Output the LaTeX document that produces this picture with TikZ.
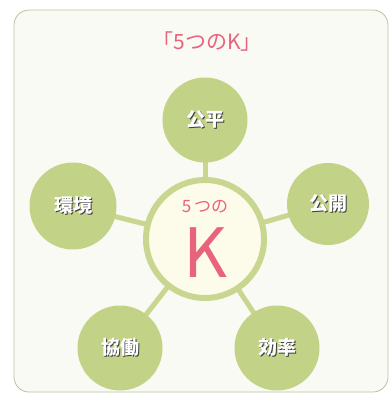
\documentclass[tikz,border=0pt]{standalone}
\usepackage{fontspec}
\newfontfamily\jpfont{Noto Sans CJK JP}
\usepackage{tikz}
\usetikzlibrary{positioning,backgrounds}
\definecolor{kpink}{HTML}{E8637C}
\definecolor{leafgreen}{HTML}{C2D287}
\definecolor{ringgreen}{HTML}{C9D68F}
\definecolor{paleback}{HTML}{F9FAF3}
\definecolor{framegray}{HTML}{B8C29C}
\definecolor{creamfill}{HTML}{FDFCEB}
\newcommand{\shadowtext}[1]{{\color{black!75}\rlap{\kern1pt\raisebox{-1pt}{#1}}}{\color{white}#1}}
\tikzset{
  leaf/.style={circle,minimum size=#1,inner sep=0pt,fill=leafgreen,
    font=\jpfont\bfseries\fontsize{19}{19}\selectfont},
  leaf/.default={85pt},
  hub/.style={circle,minimum size=118pt,inner sep=0pt,draw=ringgreen,
    line width=6pt,fill=creamfill,text=kpink,align=center},
  spoke/.style={draw=ringgreen,line width=5pt},
}
\begin{document}
\begin{tikzpicture}[x=1pt,y=-1pt]
  \useasboundingbox (0,0) rectangle (391,394);
  \node[font=\jpfont\fontsize{21}{21}\selectfont,text=kpink] (title) at (207,42) {「5つのK」};
  % center
  \node[hub] (hub) at (205,239) {%
    {\jpfont\fontsize{17}{17}\selectfont 5\,つの}\\[14pt]
    {\jpfont\fontsize{68}{68}\selectfont K}};
  % the five K
  \node[leaf] (kohei) at (205,120) {\shadowtext{公平}};
  \node[leaf=82pt] (kokai) at (328,204) {\shadowtext{公開}};
  \node[leaf=87pt] (kankyo) at (73,206) {\shadowtext{環境}};
  \node[leaf] (kyodo) at (120,348) {\shadowtext{協働}};
  \node[leaf] (koritsu) at (277,348) {\shadowtext{効率}};
  \begin{scope}[on background layer]
    \draw[framegray,fill=paleback,line width=0.8pt,rounded corners=15pt] (14,10) rectangle (388,392);
    \foreach \leafname in {kohei,kokai,kankyo,kyodo,koritsu}
      \draw[spoke] (hub.center) -- (\leafname.center);
  \end{scope}
\end{tikzpicture}
\end{document}
